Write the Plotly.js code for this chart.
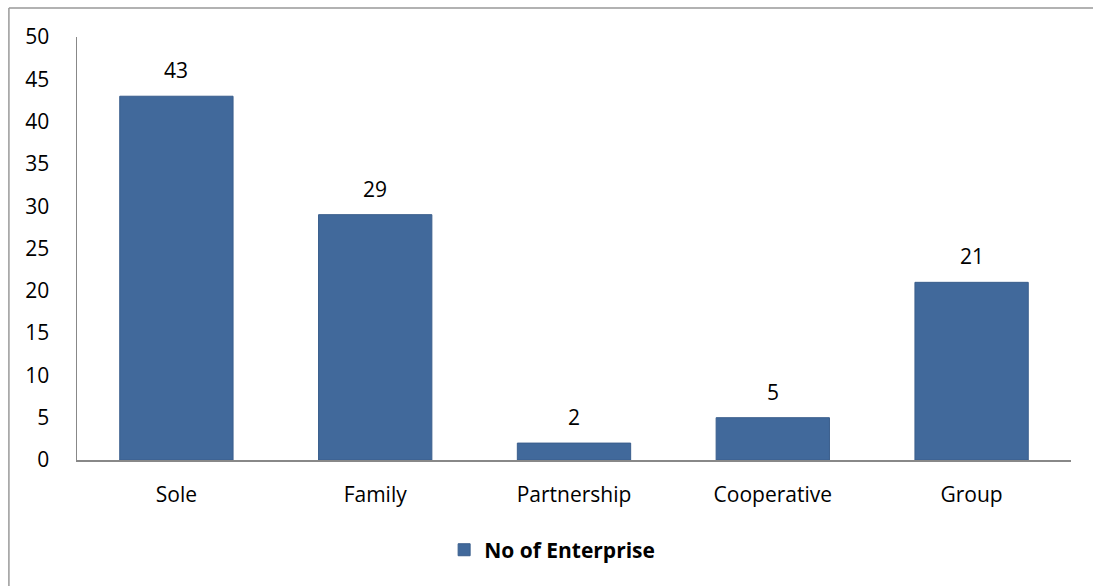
<!DOCTYPE html>
<html>
<head>
<meta charset="utf-8">
<script src="https://cdn.plot.ly/plotly-3.0.1.min.js"></script>
<style>html,body{margin:0;padding:0;background:#fff;}#chart{width:1093px;height:586px;}</style>
</head>
<body>
<div id="chart"></div>
<script>
const categories = ["Sole", "Family", "Partnership", "Cooperative", "Group"];
const values = [43, 29, 2, 5, 21];
const seriesName = "No of Enterprise";
const yTicks = [0, 5, 10, 15, 20, 25, 30, 35, 40, 45, 50];

const FONT = "'Open Sans', sans-serif";
const FS = 21;
const barColor = "#41699B";

const trace = {
  type: "bar",
  x: categories,
  y: values,
  name: seriesName,
  marker: {color: barColor, line: {color: "#3A5E8C", width: 1}},
  width: 0.57,
  hoverinfo: "skip",
  showlegend: true
};

const annotations = categories.map((c, i) => ({
  x: c, y: values[i], xref: "x", yref: "y",
  text: String(values[i]), showarrow: false,
  yanchor: "middle", yshift: 26,
  font: {family: FONT, size: FS, color: "#000"}
}));

const layout = {
  width: 1093, height: 586,
  margin: {l: 77, r: 22, t: 37, b: 126, pad: 0},
  paper_bgcolor: "#fff", plot_bgcolor: "#fff",
  font: {family: FONT, size: FS, color: "#000"},
  bargap: 0.43,
  xaxis: {
    type: "category", showgrid: false, zeroline: false,
    showline: true, linecolor: "#888", linewidth: 1.5,
    ticks: "", ticklabelstandoff: 15,
    tickfont: {family: FONT, size: FS, color: "#000"}
  },
  yaxis: {
    range: [0, 50], tickvals: yTicks, ticktext: yTicks.map(String),
    showgrid: false, zeroline: false,
    showline: true, linecolor: "#888", linewidth: 1.5,
    ticks: "", ticklabelstandoff: 22,
    tickfont: {family: FONT, size: FS, color: "#000"}
  },
  showlegend: true,
  legend: {
    orientation: "h", x: 0.478, xanchor: "center", y: -0.213, yanchor: "middle",
    font: {family: FONT, size: FS, color: "#000", weight: "bold"},
    itemclick: false
  },
  annotations: annotations,
  shapes: [
    {type: "line", xref: "paper", yref: "paper", x0: -0.0685, x1: 1.05, y0: 1.0686, y1: 1.0686, line: {color: "#999", width: 1.5}},
    {type: "line", xref: "paper", yref: "paper", x0: -0.0685, x1: -0.0685, y0: 1.0686, y1: -0.4, line: {color: "#999", width: 1.5}}
  ]
};

Plotly.newPlot("chart", [trace], layout, {displayModeBar: false, staticPlot: true});
</script>
</body>
</html>
